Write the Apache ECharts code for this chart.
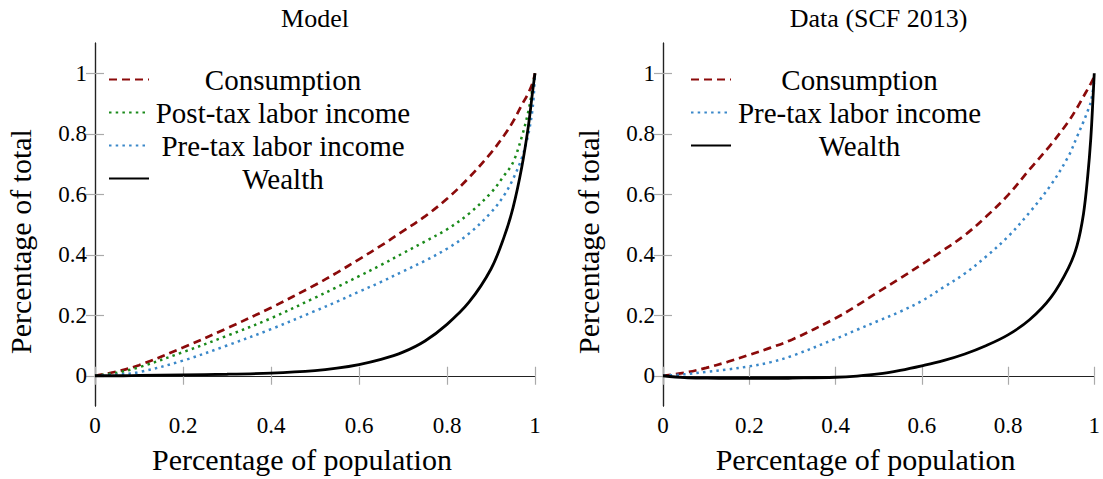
<!DOCTYPE html>
<html>
<head>
<meta charset="utf-8">
<script src="https://cdn.jsdelivr.net/npm/echarts@6/dist/echarts.min.js"></script>
<style>
html,body{margin:0;padding:0;background:#fff;}
#chart{width:1103px;height:479px;}
</style>
</head>
<body>
<div id="chart"></div>
<script>
// ---- Data ----
const xModel = [0, 0.05, 0.1, 0.2, 0.3, 0.4, 0.5, 0.55, 0.6, 0.65, 0.7, 0.75, 0.8, 0.85, 0.9, 0.93, 0.95, 0.97, 0.985, 0.995, 1];
const modelConsumption = [0, 0.014, 0.035, 0.093, 0.157, 0.225, 0.30, 0.341, 0.385, 0.43, 0.478, 0.527, 0.585, 0.655, 0.737, 0.795, 0.84, 0.895, 0.935, 0.97, 1.0];
const modelPostTax     = [0, 0.010, 0.028, 0.078, 0.132, 0.19, 0.258, 0.293, 0.329, 0.366, 0.405, 0.444, 0.484, 0.536, 0.605, 0.662, 0.705, 0.79, 0.875, 0.955, 1.0];
const modelPreTax      = [0, 0.004, 0.012, 0.05, 0.10, 0.154, 0.214, 0.245, 0.278, 0.31, 0.345, 0.38, 0.42, 0.47, 0.54, 0.597, 0.65, 0.72, 0.80, 0.89, 1.0];
const modelWealth      = [0, 0.0, 0.001, 0.003, 0.005, 0.009, 0.017, 0.025, 0.037, 0.054, 0.078, 0.115, 0.17, 0.243, 0.353, 0.46, 0.555, 0.69, 0.826, 0.945, 1.0];

const xData = [0, 0.05, 0.1, 0.15, 0.2, 0.25, 0.3, 0.4, 0.45, 0.5, 0.55, 0.6, 0.65, 0.7, 0.75, 0.8, 0.85, 0.9, 0.94, 0.96, 0.975, 0.985, 0.992, 0.997, 1];
const dataConsumption = [0, 0.01, 0.026, 0.046, 0.069, 0.093, 0.12, 0.19, 0.232, 0.278, 0.322, 0.368, 0.415, 0.465, 0.527, 0.597, 0.682, 0.765, 0.84, 0.885, 0.923, 0.948, 0.966, 0.98, 0.99];
const dataPreTax      = [0, 0.005, 0.013, 0.021, 0.031, 0.045, 0.066, 0.122, 0.152, 0.182, 0.212, 0.247, 0.292, 0.338, 0.395, 0.46, 0.54, 0.632, 0.725, 0.79, 0.84, 0.876, 0.905, 0.945, 0.975];
const dataWealth      = [0, -0.006, -0.008, -0.009, -0.009, -0.009, -0.008, -0.005, -0.001, 0.006, 0.018, 0.033, 0.05, 0.072, 0.1, 0.135, 0.185, 0.26, 0.356, 0.43, 0.535, 0.662, 0.785, 0.914, 1.0];

const xTicks = [0, 0.2, 0.4, 0.6, 0.8, 1];
const yTicks = [0, 0.2, 0.4, 0.6, 0.8, 1];
const panelTitles = ['Model', 'Data (SCF 2013)'];
const xName = 'Percentage of population';
const yName = 'Percentage of total';
const legendModel = ['Consumption', 'Post-tax labor income', 'Pre-tax labor income', 'Wealth'];
const legendData  = ['Consumption', 'Pre-tax labor income', 'Wealth'];

// ---- Styling ----
const FONT = 'Liberation Serif';
const RED = '#8b0a0a', GREEN = '#1a8a1a', BLUE = '#3a88c9', BLACK = '#000';
const gridLefts = [95, 663];

function zip(xs, ys) { return xs.map((x, i) => [x, ys[i]]); }

const axisLineStyle = { show: true, lineStyle: { color: '#222', width: 1.2 } };
const tickStyle = { color: '#aaa', width: 1.2 };

const grids = gridLefts.map(l => ({ left: l, top: 43, width: 440, height: 365 }));
const xAxes = [], yAxes = [];
gridLefts.forEach((l, g) => {
  xAxes.push({
    gridIndex: g, type: 'value', min: 0, max: 1, interval: 0.2, position: 'bottom',
    name: xName, nameLocation: 'middle', nameGap: 38,
    nameTextStyle: { fontSize: 30, fontFamily: FONT, color: '#000', padding: [0, 26, 0, 0] },
    axisLine: axisLineStyle,
    axisTick: { show: true, inside: true, length: 9, lineStyle: tickStyle },
    axisLabel: { fontSize: 23, fontFamily: FONT, color: '#000', margin: 8 },
    splitLine: { show: false }
  });
  xAxes.push({
    gridIndex: g, type: 'value', min: 0, max: 1, interval: 0.2, position: 'top',
    name: panelTitles[g], nameLocation: 'middle', nameGap: 12,
    nameTextStyle: { fontSize: 26, fontFamily: FONT, color: '#000' },
    axisLine: axisLineStyle,
    axisTick: { show: true, inside: true, length: 9, lineStyle: tickStyle },
    axisLabel: { show: false },
    splitLine: { show: false }
  });
  yAxes.push({
    gridIndex: g, type: 'value', min: -0.1, max: 1.1, position: 'left',
    name: yName, nameLocation: 'middle', nameGap: 60,
    nameTextStyle: { fontSize: 30, fontFamily: FONT, color: '#000', padding: [0, 34, 0, 0] },
    axisLine: axisLineStyle,
    axisTick: { show: true, inside: true, length: 9, lineStyle: tickStyle, customValues: yTicks },
    axisLabel: { fontSize: 23, fontFamily: FONT, color: '#000', margin: 8, customValues: yTicks },
    splitLine: { show: false }
  });
  yAxes.push({
    gridIndex: g, type: 'value', min: -0.1, max: 1.1, position: 'right',
    axisLine: axisLineStyle,
    axisTick: { show: true, inside: true, length: 9, lineStyle: tickStyle, customValues: yTicks },
    axisLabel: { show: false },
    splitLine: { show: false }
  });
});

function lineSeries(name, g, xs, ys, color, type, width) {
  return {
    type: 'line', name: name, xAxisIndex: g * 2, yAxisIndex: g * 2,
    data: zip(xs, ys), symbol: 'none', showSymbol: false,
    smooth: 0.35,
    lineStyle: { color: color, width: width, type: type, cap: 'butt' },
    itemStyle: { color: color },
    emphasis: { disabled: true }
  };
}
const DASH = [8, 5], DOT = [2.5, 4.2];
const series = [
  lineSeries('Consumption', 0, xModel, modelConsumption, RED, DASH, 2.7),
  lineSeries('Post-tax labor income', 0, xModel, modelPostTax, GREEN, DOT, 2.5),
  lineSeries('Pre-tax labor income', 0, xModel, modelPreTax, BLUE, DOT, 2.5),
  lineSeries('Wealth', 0, xModel, modelWealth, BLACK, 'solid', 2.8),
  lineSeries('Consumption', 1, xData, dataConsumption, RED, DASH, 2.7),
  lineSeries('Pre-tax labor income', 1, xData, dataPreTax, BLUE, DOT, 2.5),
  lineSeries('Wealth', 1, xData, dataWealth, BLACK, 'solid', 2.8)
];

function makeLegend(data, left, colWidth) {
  return {
    data: data, left: left, top: 65, orient: 'vertical', padding: 0, itemGap: 4,
    itemWidth: 40, itemHeight: 14, selectedMode: false,
    itemStyle: { opacity: 0 },
    formatter: n => '{t|' + n + '}',
    textStyle: { rich: { t: { width: colWidth, align: 'center', fontSize: 29, fontFamily: FONT, color: '#000' } } }
  };
}

const chart = echarts.init(document.getElementById('chart'), null, { renderer: 'svg' });
chart.setOption({
  animation: false,
  backgroundColor: '#fff',
  grid: grids,
  xAxis: xAxes,
  yAxis: yAxes,
  legend: [makeLegend(legendModel, 108, 258), makeLegend(legendData, 690, 247)],
  series: series
});
</script>
</body>
</html>
